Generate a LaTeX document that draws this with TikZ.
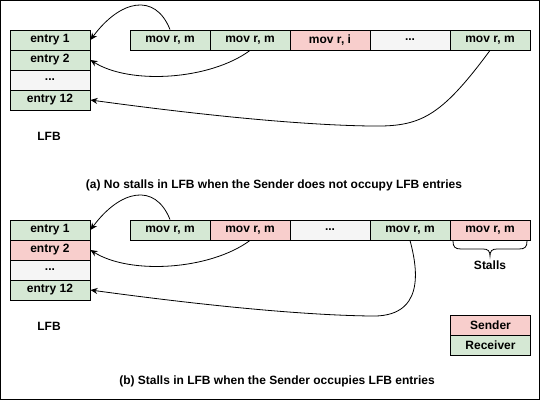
\documentclass[tikz,border=0pt]{standalone}
\usepackage{fontspec}
\setmainfont{Liberation Sans}
\usetikzlibrary{arrows.meta}
\definecolor{rgreen}{HTML}{D5E8D4}
\definecolor{sred}{HTML}{F8CECC}
\definecolor{lgray}{HTML}{F5F5F5}
\tikzset{
  cell/.style={draw=black, line width=0.9pt, minimum width=80pt, minimum height=20pt, inner sep=0pt, font=\bfseries\fontsize{12pt}{14pt}\selectfont},
  gcell/.style={cell, fill=rgreen},
  rcell/.style={cell, fill=sred},
  ycell/.style={cell, fill=lgray},
  lbl/.style={inner sep=0pt, font=\bfseries\fontsize{12pt}{14pt}\selectfont},
  arr/.style={line width=0.8pt, -{Stealth[length=7pt,width=6pt]}}
}
\begin{document}
\begin{tikzpicture}[x=1pt,y=-1pt]
\useasboundingbox (0,0) rectangle (541,401);
\fill[white] (0,0) rectangle (541,401);
\draw[line width=1pt] (0.8,0.8) rectangle (539,399.2);

% ---------- (a) ----------
\node[gcell] (ae1) at (50,40) {entry 1};
\node[gcell] (ae2) at (50,60) {entry 2};
\node[ycell] (ae3) at (50,80) {...};
\node[gcell] (ae12) at (50,100) {entry 12};
\node[lbl] (alfb) at (49,136) {LFB};

\node[gcell] (ac1) at (170,40) {mov r, m};
\node[gcell] (ac2) at (250,40) {mov r, m};
\node[rcell] (ac3) at (330,40) {mov r, i};
\node[ycell] (ac4) at (410,40) {...};
\node[gcell] (ac5) at (490,40) {mov r, m};

\draw[arr] (ac1.north) .. controls (155,-8) and (120,0) .. (ae1.east);
\draw[arr] (ac2.south) .. controls (210,80) and (130,85) .. (ae2.east);
\draw[arr] (ac5.south) .. controls (440,118) and (420,127) .. (370,126) .. controls (300,125) and (200,115) .. (ae12.east);

\node[lbl] (capa) at (274,185) {(a) No stalls in LFB when the Sender does not occupy LFB entries};

% ---------- (b) ----------
\node[gcell] (be1) at (50,230) {entry 1};
\node[rcell] (be2) at (50,250) {entry 2};
\node[ycell] (be3) at (50,270) {...};
\node[gcell] (be12) at (50,290) {entry 12};
\node[lbl] (blfb) at (49,326) {LFB};

\node[gcell] (bc1) at (170,230) {mov r, m};
\node[rcell] (bc2) at (250,230) {mov r, m};
\node[ycell] (bc3) at (330,230) {...};
\node[gcell] (bc4) at (410,230) {mov r, m};
\node[rcell] (bc5) at (490,230) {mov r, m};

\draw[line width=0.8pt] (453,241) .. controls (453,247) and (455,249) .. (461,249) -- (483,249) .. controls (488,249) and (490,251) .. (490,256) .. controls (490,251) and (492,249) .. (497,249) -- (519,249) .. controls (525,249) and (527,247) .. (527,241);
\node[lbl] (stalls) at (490,265) {Stalls};

\draw[arr] (bc1.north) .. controls (155,182) and (120,190) .. (be1.east);
\draw[arr] (bc2.south) .. controls (210,270) and (130,275) .. (be2.east);
\draw[arr] (bc4.south) .. controls (418,270) and (425,318) .. (370,316) .. controls (300,315) and (200,305) .. (be12.east);

\node[rcell] (sender) at (490.5,325) {Sender};
\node[gcell] (receiver) at (490.5,345) {Receiver};

\node[lbl] (capb) at (277,381) {(b) Stalls in LFB when the Sender occupies LFB entries};
\end{tikzpicture}
\end{document}
